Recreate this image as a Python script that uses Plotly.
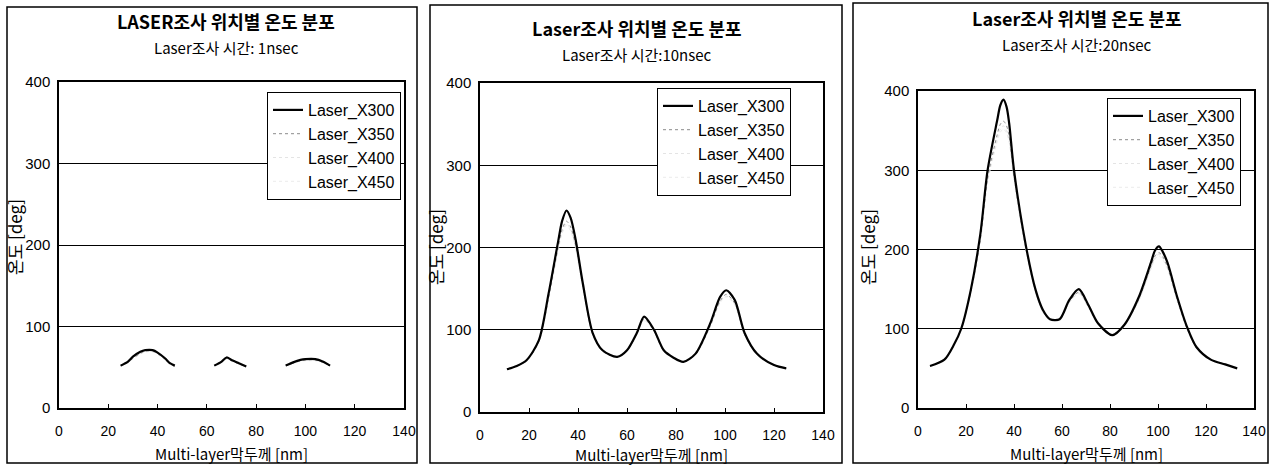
import plotly.graph_objects as go

# ---------------- data ----------------
series_names = ["Laser_X300", "Laser_X350", "Laser_X400", "Laser_X450"]
titles = ["LASER조사 위치별 온도 분포", "Laser조사 위치별 온도 분포", "Laser조사 위치별 온도 분포"]
subtitles = ["Laser조사 시간: 1nsec", "Laser조사 시간:10nsec", "Laser조사 시간:20nsec"]
x_ticks = [0, 20, 40, 60, 80, 100, 120, 140]
y_ticks = [0, 100, 200, 300, 400]

# Panel 1 : 1 nsec  (None = no value drawn)
x_1ns = [25, 28, 30, 33, 35, 38, 40, 43, 45, 47, 55, 63, 66, 68, 70, 73, 76, 85, 92, 95, 98, 100, 104, 107, 110]
x300_1ns = [52, 57, 63, 69, 71, 71, 68, 61, 55, 52, None, 52, 57, 62, 59, 55, 51, None, 52, 56, 59, 60, 60, 57, 52]
x350_1ns = [52, 56, 61, 67, 70, 70, 67, 60, 54, 51, None, 52, 57, 61, 58, 54, 51, None, 52, 55, 58, 59, 59, 56, 52]
x400_1ns = [51, 56, 61, 67, 69, 69, 66, 60, 54, 51, None, 52, 56, 61, 58, 54, 51, None, 52, 55, 58, 59, 59, 56, 52]
x450_1ns = [51, 55, 60, 66, 69, 69, 66, 59, 54, 51, None, 52, 56, 60, 58, 54, 51, None, 52, 55, 58, 58, 58, 56, 52]

# Panel 2 : 10 nsec
x_10ns = [11, 15, 19, 24, 28, 32, 33.5, 35.3, 37, 39, 42, 46, 50, 56, 60, 64, 67, 71, 75, 79, 83, 88, 94, 98, 100.5, 104, 108, 113, 120, 125]
x300_10ns = [52, 56, 63, 87, 144, 209, 232, 245, 236, 210, 156, 96, 75, 67, 75, 96, 116, 100, 75, 66, 61, 71, 108, 140, 148, 136, 96, 71, 57, 53]
x350_10ns = [52, 56, 62, 86, 140, 202, 222, 232, 225, 203, 152, 95, 74, 67, 74, 95, 113, 99, 74, 66, 61, 70, 105, 135, 143, 132, 94, 70, 57, 53]
x400_10ns = [52, 56, 62, 85, 138, 200, 219, 229, 222, 201, 151, 94, 74, 67, 74, 94, 112, 98, 74, 66, 61, 70, 104, 134, 141, 131, 94, 70, 57, 53]
x450_10ns = [52, 56, 62, 85, 137, 198, 217, 227, 220, 199, 150, 94, 74, 67, 74, 94, 111, 98, 74, 66, 61, 70, 104, 133, 140, 130, 93, 70, 57, 53]

# Panel 3 : 20 nsec
x_20ns = [5, 11, 15, 18, 22, 26, 29, 33, 34.3, 35.6, 36.9, 38, 40, 45, 49, 52, 55, 59, 63, 67, 71, 75, 81, 86, 92, 97, 98.8, 100.4, 102, 104, 108, 112, 116, 122, 128, 133]
x300_20ns = [53, 61, 80, 100, 149, 220, 300, 363, 382, 389, 380, 359, 300, 204, 149, 124, 112, 112, 136, 150, 130, 107, 92, 105, 140, 183, 199, 204, 197, 183, 140, 103, 77, 61, 55, 50]
x350_20ns = [53, 61, 80, 100, 147, 214, 290, 345, 358, 362, 356, 342, 292, 200, 147, 122, 112, 112, 134, 146, 128, 106, 92, 104, 137, 178, 192, 196, 191, 178, 137, 101, 76, 61, 55, 50]
x400_20ns = [53, 61, 80, 99, 146, 212, 287, 340, 352, 356, 350, 338, 289, 199, 146, 121, 111, 111, 133, 145, 127, 106, 92, 104, 136, 176, 190, 194, 189, 176, 136, 101, 76, 61, 55, 50]
x450_20ns = [53, 61, 79, 99, 145, 210, 285, 336, 348, 352, 347, 335, 287, 198, 145, 121, 111, 111, 133, 144, 127, 105, 92, 103, 135, 175, 188, 192, 187, 175, 135, 100, 76, 61, 55, 50]

panels = [
    (x_1ns, [x300_1ns, x350_1ns, x400_1ns, x450_1ns]),
    (x_10ns, [x300_10ns, x350_10ns, x400_10ns, x450_10ns]),
    (x_20ns, [x300_20ns, x350_20ns, x400_20ns, x450_20ns]),
]

# ---------------- layout geometry (pixels) ----------------
W, H = 1271, 466
def px(v):
    return v / W
def py(v):
    return 1 - v / H

plot_boxes = [(59, 404, 82, 408), (480, 823, 83, 412), (918, 1254, 91, 408)]
frames = [(7, 417, 7, 463), (430, 842, 5, 463), (853, 1268, 3, 463)]
legend_pos = [(267, 92), (657, 88), (1107, 98)]
title_y = [(21, 47), (28, 54), (18, 44)]
title_cx = [226, 637, 1077]
ytitle_x = [15, 435, 867]
ytitle_cy = [237, 247, 247]
xtitle_y = [453, 454, 453]

styles = [
    dict(color="black", width=2.2, dash="solid"),
    dict(color="#8c8c8c", width=1, dash="dot"),
    dict(color="#e4e4e4", width=1, dash="dot"),
    dict(color="#ececec", width=1, dash="dot"),
]

FONT = "Liberation Sans, Arial, Noto Sans CJK KR"
KFONT = "Noto Sans CJK KR, Liberation Sans"

fig = go.Figure()
annotations = []
shapes = []
layout_axes = {}

for i, (xs, ys) in enumerate(panels):
    n = "" if i == 0 else str(i + 1)
    xa, ya = "x" + n, "y" + n
    leg = "legend" + n
    for k in [3, 2, 1, 0]:
        fig.add_trace(go.Scatter(
            x=xs, y=ys[k], mode="lines", name=series_names[k],
            line=dict(shape="spline", smoothing=0.8, **styles[k]),
            xaxis=xa, yaxis=ya, legend=leg, legendrank=k + 1,
            connectgaps=False, hoverinfo="skip",
        ))
    x0, x1, y0, y1 = plot_boxes[i]
    layout_axes["xaxis" + n] = dict(
        domain=[px(x0), px(x1)], range=[0, 140], tickvals=x_ticks, anchor=ya,
        showline=True, mirror=True, linecolor="black", linewidth=1.5,
        ticks="inside", ticklen=4, tickcolor="black", showgrid=False, zeroline=False,
        ticklabelstandoff=9, automargin=False,
        tickfont=dict(family=FONT, size=14, color="black"),
    )
    layout_axes["yaxis" + n] = dict(
        domain=[py(y1), py(y0)], range=[0, 400], tickvals=y_ticks, anchor=xa,
        showline=True, mirror=True, linecolor="black", linewidth=1.5,
        ticks="", showgrid=True, gridcolor="black", gridwidth=1.2, zeroline=False,
        ticklabelstandoff=4, automargin=False,
        tickfont=dict(family=FONT, size=15, color="black"),
    )
    lx, ly = legend_pos[i]
    layout_axes[leg] = dict(
        x=px(lx), y=py(ly), xanchor="left", yanchor="top",
        bgcolor="white", bordercolor="black", borderwidth=1,
        font=dict(family=FONT, size=16, color="black"),
        itemwidth=30, tracegroupgap=0,
    )
    ty, sy = title_y[i]
    annotations.append(dict(x=px(title_cx[i]), y=py(ty), xref="paper", yref="paper",
                            text="<b>" + titles[i] + "</b>", showarrow=False,
                            font=dict(family=KFONT, size=18, color="black"),
                            xanchor="center", yanchor="middle"))
    annotations.append(dict(x=px(title_cx[i]), y=py(sy), xref="paper", yref="paper",
                            text=subtitles[i], showarrow=False,
                            font=dict(family=KFONT, size=15, color="black"),
                            xanchor="center", yanchor="middle"))
    annotations.append(dict(x=px((x0 + x1) / 2), y=py(xtitle_y[i]), xref="paper", yref="paper",
                            text="Multi-layer막두께 [nm]", showarrow=False,
                            font=dict(family=KFONT, size=15, color="black"),
                            xanchor="center", yanchor="middle"))
    annotations.append(dict(x=px(ytitle_x[i]), y=py(ytitle_cy[i]), xref="paper", yref="paper",
                            text="온도 [deg]", showarrow=False, textangle=-90,
                            font=dict(family=KFONT, size=17, color="black"),
                            xanchor="center", yanchor="middle"))
    fx0, fx1, fy0, fy1 = frames[i]
    shapes.append(dict(type="rect", xref="paper", yref="paper",
                       x0=px(fx0), x1=px(fx1), y0=py(fy1), y1=py(fy0),
                       line=dict(color="black", width=1.5)))

fig.update_layout(
    width=W, height=H, autosize=False, margin=dict(l=0, r=0, t=0, b=0, pad=0),
    paper_bgcolor="white", plot_bgcolor="white",
    annotations=annotations, shapes=shapes, showlegend=True,
    **layout_axes,
)

post = (
    "document.body.style.margin='0';document.body.style.padding='0';"
    "document.body.style.overflow='hidden';"
    "var gd=document.getElementById('{plot_id}');"
    "gd.style.width='1271px';gd.style.height='466px';"
    "Plotly.relayout(gd,{width:1271,height:466});"
)
fig.write_html("out.html", config={"responsive": False, "displayModeBar": False},
               post_script=post)
